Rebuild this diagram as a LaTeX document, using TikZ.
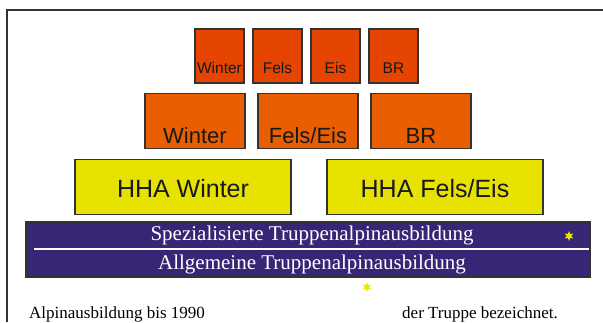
\documentclass[tikz,border=0pt]{standalone}
\usepackage{fontspec}
\setmainfont{Liberation Serif}
\newfontfamily\boxfont{Liberation Sans}
\usepackage{tikz}
\usetikzlibrary{positioning}
\usetikzlibrary{shapes.geometric}
\definecolor{topred}{RGB}{229,69,0}
\definecolor{midorange}{RGB}{232,94,0}
\definecolor{hhayellow}{RGB}{232,226,0}
\definecolor{barblue}{RGB}{54,38,117}
\definecolor{framegray}{RGB}{51,51,51}
\definecolor{sparkyellow}{RGB}{240,232,0}
\tikzstyle{block}=[draw=framegray,line width=1.6pt,inner sep=0pt,outer sep=0pt,text=black!90]
\tikzstyle{topbox}=[block,fill=topred,minimum width=49pt,text height=44pt,text depth=10pt,
               font=\boxfont\fontsize{15.5}{16}\selectfont]
\tikzstyle{midbox}=[block,fill=midorange,minimum width=100pt,text height=50pt,text depth=5pt,
               font=\boxfont\fontsize{22}{24}\selectfont]
\tikzstyle{hhabox}=[block,fill=hhayellow,minimum width=216pt,text height=38pt,text depth=17pt,
               font=\boxfont\fontsize{25}{27}\selectfont]
\tikzstyle{bartext}=[text=white,inner sep=0pt,anchor=base,font=\fontsize{21}{23}\selectfont]
\tikzstyle{note}=[inner sep=0pt,anchor=base west,font=\fontsize{17}{19}\selectfont]
\tikzstyle{spark}=[star,star points=6,star point ratio=2.2,fill=sparkyellow,inner sep=0pt,minimum size=10pt]

\begin{document}
\begin{tikzpicture}[x=1pt,y=-1pt]
\useasboundingbox (0,0) rectangle (603,322);
\draw[framegray, line width=2pt] (7,322) -- (7,9.5) -- (603,9.5);

% top row
\node[topbox, anchor=north west] at (195,29) (tw) {Winter};
\node[topbox, right=9pt of tw] (tf) {Fels};
\node[topbox, right=9pt of tf] (te) {Eis};
\node[topbox, right=9pt of te] (tb) {BR};

% middle row
\node[midbox, anchor=north west] at (145,93.3) (mw) {Winter};
\node[midbox, right=13pt of mw] (mf) {Fels/Eis};
\node[midbox, right=13pt of mf] (mb) {BR};

% HHA
\node[hhabox, anchor=north west] at (75,159.3) (hw) {HHA Winter};
\node[hhabox, right=36pt of hw] (hf) {HHA Fels/Eis};

% base
\node[block, fill=barblue, anchor=north west, minimum width=564pt, minimum height=55pt] at (26,221.7) (bar) {};
\draw[white, line width=1.5pt] ([xshift=8pt]bar.west) -- ([xshift=-0.8pt]bar.east);
\node[bartext] at (312,240.7) (spez) {Spezialisierte Truppenalpinausbildung};
\node[bartext] at (312,269.3) (allg) {Allgemeine Truppenalpinausbildung};
\node[spark] at (569,236) (s1) {};
\node[spark] at (367,287) (s2) {};

\node[note] at (29,318) (bis) {Alpinausbildung bis 1990};
\node[note] at (402,318) (trp) {der Truppe bezeichnet.};
\end{tikzpicture}
\end{document}
